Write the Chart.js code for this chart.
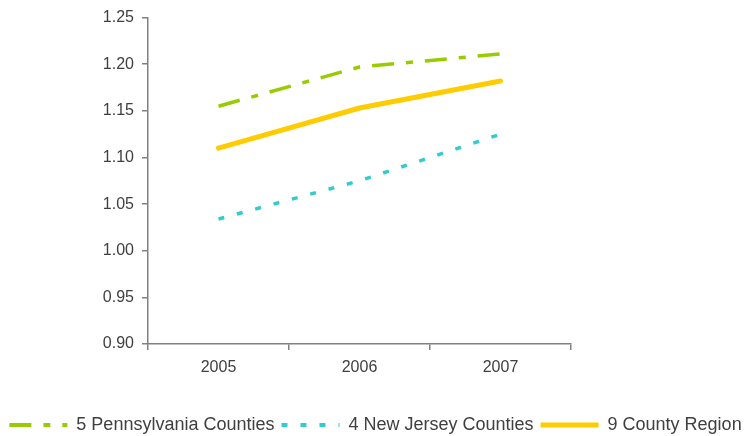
<!DOCTYPE html>
<html>
<head>
<meta charset="utf-8">
<script src="https://cdn.jsdelivr.net/npm/chart.js@4/dist/chart.umd.min.js"></script>
<style>
html,body{margin:0;padding:0;background:#fff;}
#wrap{width:751px;height:436px;position:relative;}
</style>
</head>
<body>
<div id="wrap"><canvas id="c" width="751" height="436"></canvas></div>
<script>
const categories = ["2005", "2006", "2007"];
const pennsylvania = [1.155, 1.197, 1.211];
const newJersey = [1.034, 1.075, 1.125];
const countyRegion = [1.110, 1.153, 1.182];
const seriesNames = ["5 Pennsylvania Counties", "4 New Jersey Counties", "9 County Region"];
const yTicks = [0.90, 0.95, 1.00, 1.05, 1.10, 1.15, 1.20, 1.25];

const axisColor = "#808080";
const textColor = "#404040";
const fontFamily = "'Liberation Sans', Arial, sans-serif";

new Chart(document.getElementById("c"), {
  type: "line",
  data: {
    labels: categories,
    datasets: [
      { label: seriesNames[0], data: pennsylvania, borderColor: "#99CC00", backgroundColor: "#99CC00",
        borderWidth: 3.5, borderDash: [22, 12, 7, 12], pointRadius: 0, tension: 0, order: 2 },
      { label: seriesNames[1], data: newJersey, borderColor: "#33CCCC", backgroundColor: "#33CCCC",
        borderWidth: 3.5, borderDash: [6, 13], pointRadius: 0, tension: 0, order: 3 },
      { label: seriesNames[2], data: countyRegion, borderColor: "#FFCC00", backgroundColor: "#FFCC00",
        borderWidth: 5, borderCapStyle: "round", pointRadius: 0, tension: 0, order: 1 }
    ]
  },
  options: {
    responsive: false,
    animation: false,
    layout: { padding: { left: 0, right: 0, top: 10, bottom: -8 } },
    plugins: {
      tooltip: { enabled: false },
      legend: {
        position: "bottom",
        labels: {
          usePointStyle: true,
          pointStyle: "line",
          pointStyleWidth: 58,
          padding: 7,
          color: textColor,
          font: { family: fontFamily, size: 18 },
          generateLabels: function(chart) {
            return chart.data.datasets.map((ds, i) => ({
              text: ds.label,
              strokeStyle: ds.borderColor,
              fillStyle: ds.borderColor,
              lineWidth: i === 2 ? 5 : 4,
              lineDash: ds.borderDash || [],
              lineCap: "butt",
              pointStyle: "line",
              hidden: false,
              datasetIndex: i,
              fontColor: textColor
            }));
          }
        }
      }
    },
    scales: {
      x: {
        offset: true,
        border: { display: true, color: axisColor, width: 1.5 },
        grid: { display: true, offset: true, drawOnChartArea: false, drawTicks: true, tickLength: 6, color: axisColor, lineWidth: 1.5 },
        ticks: { color: textColor, padding: 8, font: { family: fontFamily, size: 16 } },
        afterFit: s => { s.height = 65; }
      },
      y: {
        min: 0.9,
        max: 1.25,
        afterBuildTicks: s => { s.ticks = yTicks.map(v => ({ value: v })); },
        border: { display: true, color: axisColor, width: 1.5 },
        grid: { display: true, drawOnChartArea: false, drawTicks: true, tickLength: 6, color: axisColor, lineWidth: 1.5 },
        ticks: { color: textColor, padding: 8, font: { family: fontFamily, size: 16 },
          callback: v => Number(v).toFixed(2) },
        afterFit: s => { s.width = 148; }
      },
      yRight: {
        position: "right",
        display: true,
        border: { display: false },
        grid: { display: false, drawTicks: false },
        ticks: { display: false },
        afterFit: s => { s.width = 180; }
      }
    }
  }
});
</script>
</body>
</html>
